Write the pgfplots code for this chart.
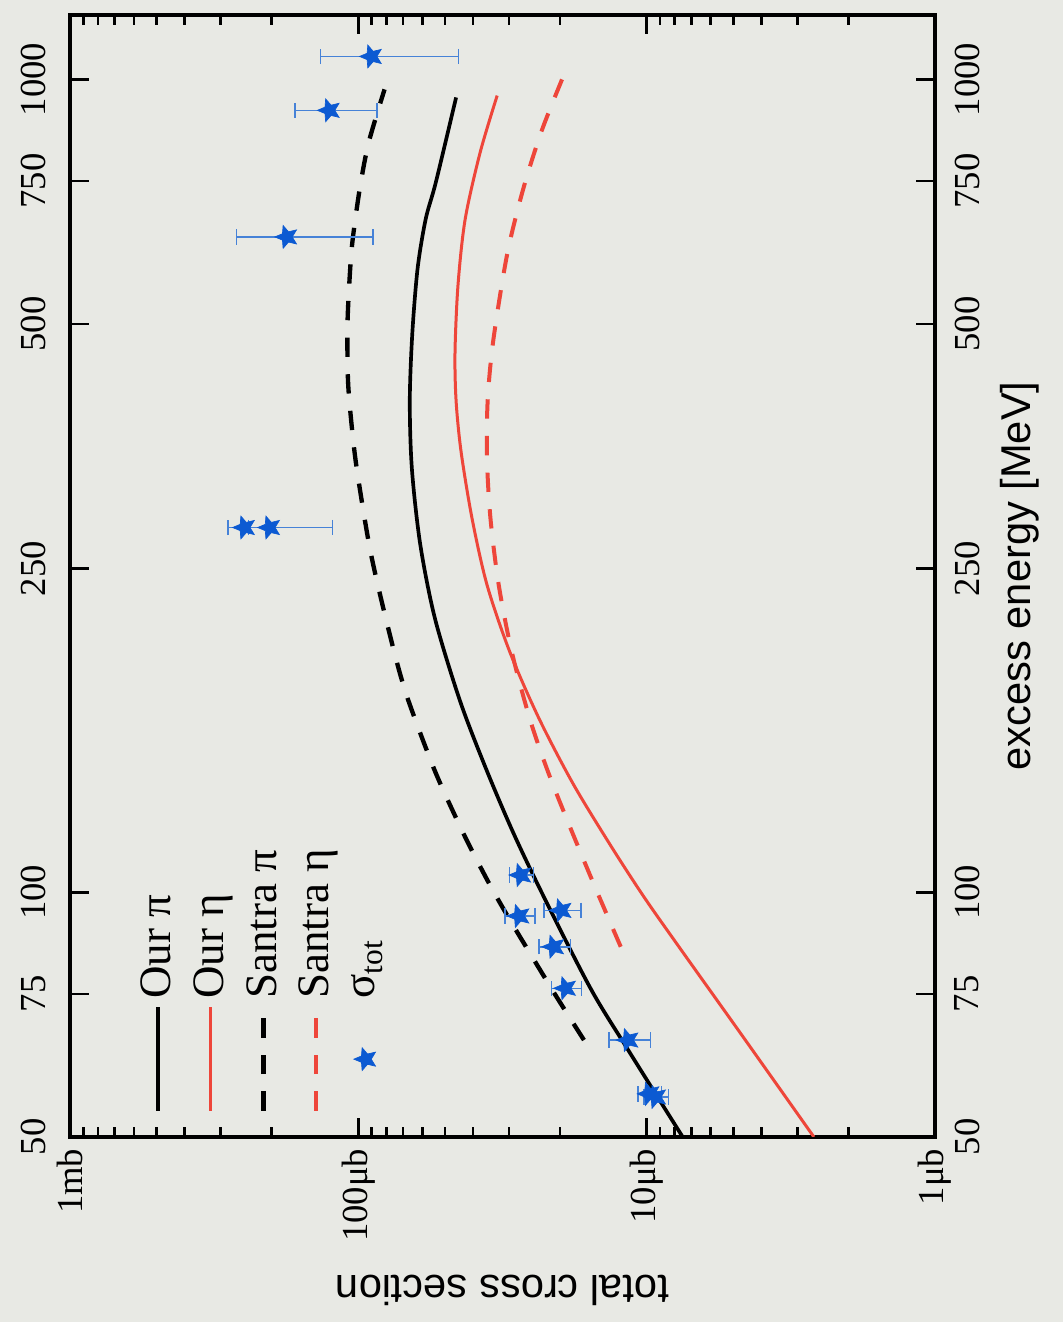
\documentclass[border=0pt]{standalone}
\usepackage{fontspec}
\setmainfont{Liberation Serif}
\newfontfamily\labelfont{Liberation Sans}
\usepackage{graphicx}
\usepackage{pgfplots}
\pgfplotsset{compat=1.18}
\usepackage{pgfplotstable}

\definecolor{bg}{RGB}{232,233,228}
\definecolor{myred}{RGB}{238,70,58}
\definecolor{starblue}{RGB}{12,90,210}
\definecolor{errblue}{RGB}{70,130,215}

\pgfdeclareplotmark{fstar}{%
  \pgfpathmoveto{\pgfpointpolar{90}{\pgfplotmarksize}}%
  \pgfpathlineto{\pgfpointpolar{126}{0.45\pgfplotmarksize}}%
  \pgfpathlineto{\pgfpointpolar{162}{\pgfplotmarksize}}%
  \pgfpathlineto{\pgfpointpolar{198}{0.45\pgfplotmarksize}}%
  \pgfpathlineto{\pgfpointpolar{234}{\pgfplotmarksize}}%
  \pgfpathlineto{\pgfpointpolar{270}{0.45\pgfplotmarksize}}%
  \pgfpathlineto{\pgfpointpolar{306}{\pgfplotmarksize}}%
  \pgfpathlineto{\pgfpointpolar{342}{0.45\pgfplotmarksize}}%
  \pgfpathlineto{\pgfpointpolar{18}{\pgfplotmarksize}}%
  \pgfpathlineto{\pgfpointpolar{54}{0.45\pgfplotmarksize}}%
  \pgfpathclose
  \pgfusepathqfillstroke}

\pgfplotstableread{
E s
50 7.5
64 11.6
76 15.6
98 22.5
118 28.9
142 36.1
172 44.4
217 54.2
268 61.0
332 65.2
402 66.3
486 65.0
585 62.3
673 58.4
748 53.8
950 45.8
}\ourpi

\pgfplotstableread{
E s
50 2.63
66.4 4.63
85.7 7.73
98.6 10.2
114 13.3
136 18.0
164 23.7
198 29.9
239 35.8
288 40.3
348 44.0
402 45.8
462 46.2
559 45.1
673 42.6
813 37.8
955 33.0
}\oureta

\pgfplotstableread{
E s
65.8 16.5
74.3 20.5
82.6 24.6
91.7 29.4
101.4 34.6
113 40.6
124 46.1
142 54.7
172 67.0
194 74.1
235 84.7
271 92.3
339 102.1
402 107.4
441 108.9
508 108.9
600 106.2
655 103.5
741 98.4
837 92.0
972 81.1
}\santrapi

\pgfplotstableread{
E s
85.7 12.3
102.6 15.3
124 19.1
142 22.2
164 25.5
198 29.4
239 32.6
288 34.8
342 35.8
402 35.6
475 34.1
608 30.5
733 26.8
869 23.0
1034 18.9
}\santraeta

\pgfplotstableread{
E s err
1067 90 45
916 126 40
640 177 88
281 248 8
281 203 80
105 27.3 2.6
95 19.8 2.9
93.5 27.7 3.3
85.7 21.0 2.6
76.2 19.1 2.3
65.8 11.6 1.9
56.5 9.8 0.9
56 9.3 0.9
}\sigdata

\begin{document}
\rotatebox{90}{%
\begin{tikzpicture}
\path[use as bounding box, fill=bg] (-55.5pt,-38.4pt) rectangle (341.1pt,280.5pt);
\begin{axis}[
  name=main,
  scale only axis, width=336.6pt, height=259.5pt,
  xmode=log, ymode=log,
  xmin=50, xmax=1200, ymin=1, ymax=1000,
  xtick={50,75,100,250,500,750,1000},
  xticklabels={50,75,100,250,500,750,1000},
  xminorticks=false,
  ytick={1,10,100,1000},
  yticklabels={1μb,10μb,100μb,1mb},
  tick label style={font=\fontsize{11}{13}\selectfont},
  xticklabel style={yshift=-2.4pt},
  major tick length=5.8pt, minor tick length=3pt,
  tick style={black, line width=0.8pt},
  axis line style={line width=1pt},
  xlabel={excess energy [MeV]},
  ylabel={total cross section},
  label style={font=\labelfont\fontsize{12.5}{15}\selectfont},
  xlabel style={at={(axis description cs:0.5,-0.0983)}, anchor=center},
  ylabel style={at={(axis description cs:-0.1367,0.5)}, anchor=center},
  legend image code/.code={\draw[mark repeat=2,mark phase=2,#1] plot coordinates {(0pt,0pt) (15.5pt,0pt) (31pt,0pt)};},
  legend style={draw=none, fill=none, at={(axis description cs:0,1)}, anchor=north west,
    xshift=7pt, yshift=-19pt, inner sep=0pt, row sep=1.4pt,
    font=\fontsize{13.5}{16}\selectfont},
  legend cell align=left,
]
\addplot[black, line width=1.1pt, smooth] table[x=E,y=s]{\ourpi};
\addlegendentry{Our π}
\addplot[myred, line width=0.9pt, smooth] table[x=E,y=s]{\oureta};
\addlegendentry{Our η}
\addplot[black, line width=1.3pt, dash pattern=on 5.8pt off 5.2pt, smooth] table[x=E,y=s]{\santrapi};
\addlegendentry{Santra π}
\addplot[myred, line width=1.2pt, dash pattern=on 5.8pt off 5.2pt, smooth] table[x=E,y=s]{\santraeta};
\addlegendentry{Santra η}
\addplot[only marks, mark=fstar, mark size=3.6pt, color=starblue,
  mark options={fill=starblue, draw=starblue, line width=0.2pt, solid},
  error bars/.cd, y dir=both, y explicit,
  error bar style={errblue, line width=0.45pt, solid},
  error mark options={errblue, rotate=90, mark size=2.3pt, line width=0.45pt, solid}]
  table[x=E, y=s, y error=err]{\sigdata};
\addlegendentry{σ\textsubscript{tot}}
\end{axis}
\begin{axis}[
  scale only axis, width=336.6pt, height=259.5pt,
  xmode=log, ymode=log,
  xmin=50, xmax=1200, ymin=1, ymax=1000,
  xtick={50,75,100,250,500,750,1000},
  xticklabels={50,75,100,250,500,750,1000},
  xticklabel pos=right,
  xminorticks=false, yminorticks=false,
  ytick=\empty,
  axis line style={draw=none},
  tick style={draw=none},
  tick label style={font=\fontsize{11}{13}\selectfont},
  xticklabel style={yshift=3.8pt},
]
\end{axis}
\end{tikzpicture}%
}
\end{document}
